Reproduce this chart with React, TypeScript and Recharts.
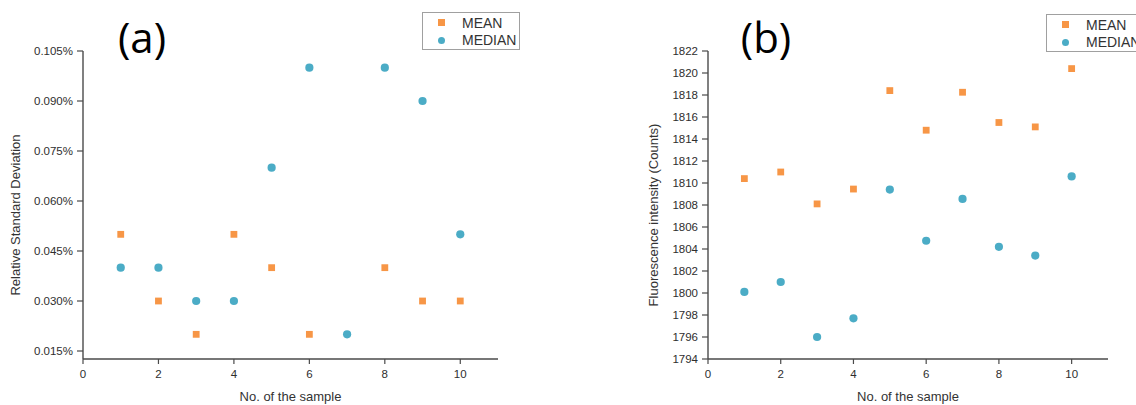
import { ScatterChart, Scatter, XAxis, YAxis, Legend } from "recharts";

// sample numbers on the x axis
const samples = [1, 2, 3, 4, 5, 6, 7, 8, 9, 10];

// (a) relative standard deviation, in percent
const rsdMean = [0.05, 0.03, 0.02, 0.05, 0.04, 0.02, null, 0.04, 0.03, 0.03];
const rsdMedian = [0.04, 0.04, 0.03, 0.03, 0.07, 0.1, 0.02, 0.1, 0.09, 0.05];

// (b) fluorescence intensity, counts
const fluoMean = [1810.4, 1811.0, 1808.1, 1809.45, 1818.4, 1814.8, 1818.25, 1815.5, 1815.1, 1820.4];
const fluoMedian = [1800.1, 1801.0, 1796.0, 1797.7, 1809.4, 1804.75, 1808.55, 1804.2, 1803.4, 1810.6];

const xTicks = [0, 2, 4, 6, 8, 10];
const xMinorTicks = [1, 3, 5, 7, 9, 11];
const rsdTicks = [0.015, 0.03, 0.045, 0.06, 0.075, 0.09, 0.105];
const rsdMinorTicks = [0.0225, 0.0375, 0.0525, 0.0675, 0.0825, 0.0975];
const fluoTicks = [1794, 1796, 1798, 1800, 1802, 1804, 1806, 1808, 1810, 1812, 1814, 1816, 1818, 1820, 1822];
const fluoMinorTicks = [1795, 1797, 1799, 1801, 1803, 1805, 1807, 1809, 1811, 1813, 1815, 1817, 1819, 1821];

const ORANGE = "#F79646";
const TEAL = "#4BACC6";
const AXIS = "#4a4a4a";
const FONT = "'Liberation Sans', Arial, sans-serif";

const toPoints = (ys: (number | null)[]) =>
  samples.map((x, i) => ({ x, y: ys[i] })).filter((p) => p.y !== null);

const tickStyle = { fill: "#2e2e2e", fontSize: 11.5, fontFamily: FONT };

const SquareDot = (props: any) => (
  <rect x={props.cx - 3.4} y={props.cy - 3.4} width={6.8} height={6.8} fill={ORANGE} />
);
const RoundDot = (props: any) => <circle cx={props.cx} cy={props.cy} r={4.1} fill={TEAL} />;

const LegendBox = ({ payload }: any) => (
  <div
    style={{
      border: "1.5px solid #a0a0a0",
      background: "#fff",
      boxSizing: "border-box",
      width: 98,
      height: 38,
      paddingTop: 1,
      fontFamily: FONT,
      fontSize: 14,
      color: "#333",
    }}
  >
    {(payload || []).map((entry: any) => (
      <div key={entry.value} style={{ display: "flex", alignItems: "center", height: 17.5 }}>
        <span
          style={{
            display: "inline-block",
            width: 7,
            height: 7,
            marginLeft: 15,
            marginRight: 17,
            background: entry.value === "MEAN" ? ORANGE : TEAL,
            borderRadius: entry.value === "MEAN" ? 0 : "50%",
          }}
        />
        <span>{entry.value}</span>
      </div>
    ))}
  </div>
);

const yTitle = (text: string, x: number, y: number) => () =>
  (
    <text
      x={x}
      y={y}
      transform={`rotate(-90, ${x}, ${y})`}
      textAnchor="middle"
      dominantBaseline="middle"
      fill="#333"
      fontSize={13}
      fontFamily={FONT}
    >
      {text}
    </text>
  );

const Panel = ({
  width,
  axisWidth,
  right,
  mean,
  median,
  yDomain,
  yTicks,
  yMinor,
  yFormat,
  yLabel,
  yLabelX,
  legendLeft,
  legendTop,
}: {
  width: number;
  axisWidth: number;
  right: number;
  mean: (number | null)[];
  median: (number | null)[];
  yDomain: [number, number];
  yTicks: number[];
  yMinor: number[];
  yFormat: (v: number) => string;
  yLabel: string;
  yLabelX: number;
  legendLeft: number;
  legendTop: number;
}) => (
  <ScatterChart width={width} height={405} margin={{ top: 51, right, bottom: 0, left: 0 }}>
    <XAxis
      xAxisId="minor"
      type="number"
      dataKey="x"
      domain={[0, 11]}
      ticks={xMinorTicks}
      interval={0}
      allowDataOverflow
      height={0}
      axisLine={false}
      tick={false}
      tickSize={3}
      tickLine={{ stroke: AXIS, strokeWidth: 1.2 }}
    />
    <XAxis
      type="number"
      dataKey="x"
      domain={[0, 11]}
      ticks={xTicks}
      interval={0}
      allowDataOverflow
      height={46}
      axisLine={{ stroke: AXIS, strokeWidth: 1.4 }}
      tickLine={{ stroke: AXIS, strokeWidth: 1.2 }}
      tickSize={5}
      tickMargin={6}
      tick={tickStyle}
      label={{
        value: "No. of the sample",
        position: "insideBottom",
        offset: 4,
        fill: "#333",
        fontSize: 13,
        fontFamily: FONT,
      }}
    />
    <YAxis
      yAxisId="minor"
      type="number"
      domain={yDomain}
      ticks={yMinor}
      interval={0}
      allowDataOverflow
      width={0}
      axisLine={false}
      tick={false}
      tickSize={3}
      tickLine={{ stroke: AXIS, strokeWidth: 1.2 }}
    />
    <YAxis
      type="number"
      dataKey="y"
      domain={yDomain}
      ticks={yTicks}
      interval={0}
      allowDataOverflow
      width={axisWidth}
      axisLine={{ stroke: AXIS, strokeWidth: 1.4 }}
      tickLine={{ stroke: AXIS, strokeWidth: 1.2 }}
      tickSize={6}
      tickMargin={4}
      tick={tickStyle}
      tickFormatter={yFormat}
      label={{ content: yTitle(yLabel, yLabelX, 215) }}
    />
    <Legend
      layout="vertical"
      align="center"
      verticalAlign="middle"
      content={<LegendBox />}
      wrapperStyle={{ left: legendLeft, top: legendTop, width: 98, height: 38 }}
    />
    <Scatter name="MEAN" data={toPoints(mean)} fill={ORANGE} shape={SquareDot} isAnimationActive={false} />
    <Scatter name="MEDIAN" data={toPoints(median)} fill={TEAL} shape={RoundDot} isAnimationActive={false} />
  </ScatterChart>
);

const letterStyle = { fontFamily: "'Open Sans', sans-serif", fontSize: 42, fill: "#000" };

export default function App() {
  return (
    <div
      style={{
        position: "absolute",
        left: 0,
        top: 0,
        width: 1136,
        height: 405,
        overflow: "hidden",
        background: "#fff",
      }}
    >
      <div style={{ position: "absolute", left: 0, top: 0 }}>
        <Panel
          width={560}
          axisWidth={83}
          right={62}
          mean={rsdMean}
          median={rsdMedian}
          yDomain={[0.0126, 0.105]}
          yTicks={rsdTicks}
          yMinor={rsdMinorTicks}
          yFormat={(v) => `${v.toFixed(3)}%`}
          yLabel="Relative Standard Deviation"
          yLabelX={17}
          legendLeft={422}
          legendTop={12}
        />
      </div>
      <div style={{ position: "absolute", left: 560, top: 0 }}>
        <Panel
          width={600}
          axisWidth={148}
          right={52}
          mean={fluoMean}
          median={fluoMedian}
          yDomain={[1794, 1822]}
          yTicks={fluoTicks}
          yMinor={fluoMinorTicks}
          yFormat={(v) => String(v)}
          yLabel="Fluorescence intensity (Counts)"
          yLabelX={95}
          legendLeft={486}
          legendTop={14}
        />
      </div>
      <svg
        width={1136}
        height={405}
        style={{ position: "absolute", left: 0, top: 0, pointerEvents: "none" }}
      >
        <text x={142} y={53} textAnchor="middle" {...letterStyle}>
          (a)
        </text>
        <text x={766} y={53} textAnchor="middle" {...letterStyle}>
          (b)
        </text>
      </svg>
    </div>
  );
}
